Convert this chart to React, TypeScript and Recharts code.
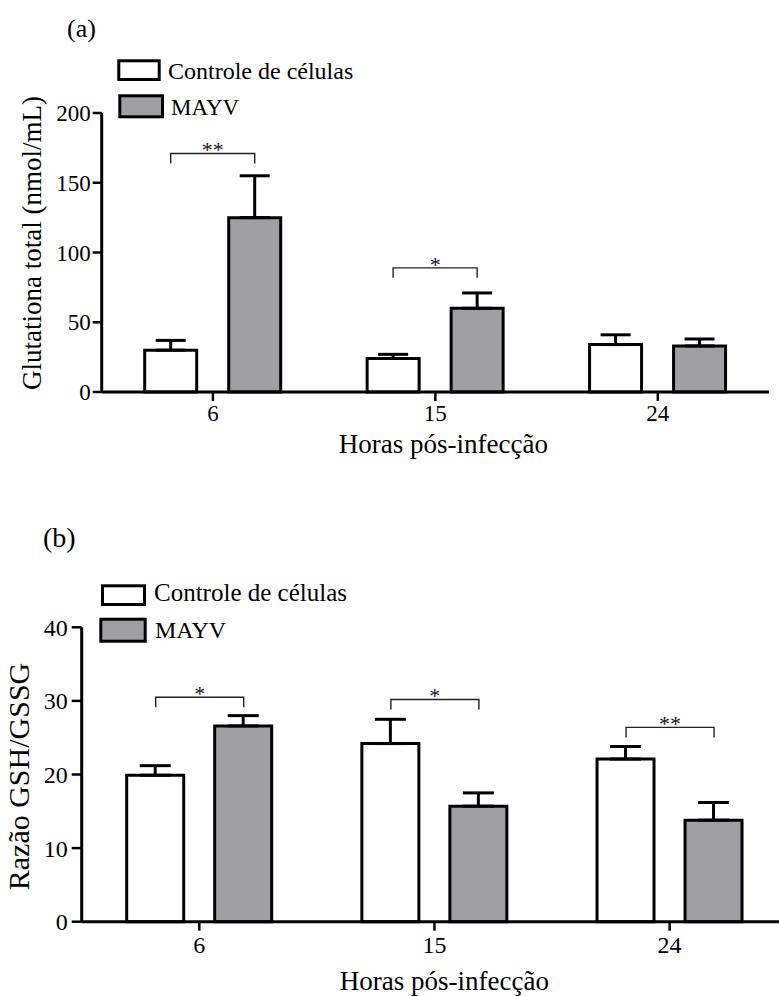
import React from 'react';
import { BarChart, Bar, XAxis, YAxis, ErrorBar } from 'recharts';

const FONT = '"Liberation Serif", "Times New Roman", serif';
const GRAY = '#a0a0a4';

const hours = ['6', '15', '24'];
const seriesNames = ['Controle de células', 'MAYV'];
const xTitle = 'Horas pós-infecção';

const glutTitle = 'Glutationa total (nmol/mL)';
const glutControl = [30, 24, 34];
const glutControlErr = [7, 3, 7];
const glutMayv = [125, 60, 33];
const glutMayvErr = [30, 11, 5];
const glutBracket = [171, 89, null];
const glutSig = ['**', '*', ''];
const glutTicks = [0, 50, 100, 150, 200];

const ratioTitle = 'Razão GSH/GSSG';
const ratioControl = [19.9, 24.2, 22.1];
const ratioControlErr = [1.3, 3.3, 1.7];
const ratioMayv = [26.6, 15.7, 13.8];
const ratioMayvErr = [1.4, 1.8, 2.4];
const ratioBracket = [30.5, 30.2, 26.4];
const ratioSig = ['*', '*', '**'];
const ratioTicks = [0, 10, 20, 30, 40];

const buildRows = (
  c: number[], ce: number[], m: number[], me: number[], br: (number | null)[], sig: string[]
) =>
  hours.map((h, i) => ({
    hour: h,
    control: c[i],
    controlErr: [0, ce[i]],
    mayv: m[i],
    mayvErr: [0, me[i]],
    bracket: br[i],
    sig: sig[i],
  }));

const glutRows = buildRows(glutControl, glutControlErr, glutMayv, glutMayvErr, glutBracket, glutSig);
const ratioRows = buildRows(ratioControl, ratioControlErr, ratioMayv, ratioMayvErr, ratioBracket, ratioSig);

const BracketShape = (props: any) => {
  const { x, y, width, payload } = props;
  if (!payload || payload.bracket == null || !payload.sig) return <g />;
  const h = 10;
  return (
    <g>
      <path
        d={`M${x},${y + h} L${x},${y} L${x + width},${y} L${x + width},${y + h}`}
        fill="none"
        stroke="#222"
        strokeWidth={1.4}
      />
      <text x={x + width / 2} y={y + 4} textAnchor="middle" fontSize={22} fontFamily={FONT} fill="#111122">
        {payload.sig}
      </text>
    </g>
  );
};

const XTick = (props: any) => {
  const { x, y, payload, size } = props;
  return (
    <text x={x} y={y} dy="0.71em" textAnchor="middle" fontSize={size} fontFamily={FONT} fill="#000">
      {payload.value}
    </text>
  );
};

const YTick = (props: any) => {
  const { x, y, payload, size } = props;
  return (
    <text x={x} y={y} dy="0.355em" textAnchor="end" fontSize={size} fontFamily={FONT} fill="#000">
      {payload.value}
    </text>
  );
};

const XTitle = (props: any) => {
  const { viewBox, text, dx, dy, size } = props;
  const cx = viewBox.x + viewBox.width / 2 + dx;
  return (
    <text x={cx} y={viewBox.y + dy} textAnchor="middle" fontSize={size} fontFamily={FONT} fill="#000">
      {text}
    </text>
  );
};

const YTitle = (props: any) => {
  const { viewBox, text, bx, dy, size } = props;
  const cy = viewBox.y + viewBox.height / 2 + dy;
  return (
    <text
      x={bx}
      y={cy}
      transform={`rotate(-90 ${bx} ${cy})`}
      textAnchor="middle"
      fontSize={size}
      fontFamily={FONT}
      fill="#000"
    >
      {text}
    </text>
  );
};

const axisLine = { stroke: '#000', strokeWidth: 3 };
const tickLine = { stroke: '#000', strokeWidth: 2.5 };

export default function App() {
  return (
    <div
      style={{
        position: 'absolute',
        left: 0,
        top: 0,
        width: 779,
        height: 996,
        overflow: 'hidden',
        background: '#fff',
      }}
    >
      <div style={{ position: 'absolute', left: 0, top: 0 }}>
        <BarChart
          width={779}
          height={470}
          data={glutRows}
          margin={{ top: 113, right: 10, bottom: 0, left: 0 }}
          barGap={32}
          style={{ fontFamily: FONT }}
        >
          <XAxis
            dataKey="hour"
            height={78}
            tickSize={9}
            tickMargin={4}
            axisLine={axisLine}
            tickLine={tickLine}
            tick={<XTick size={23} />}
            label={<XTitle text={xTitle} dx={8} dy={61} size={27} />}
          />
          <XAxis xAxisId="br" dataKey="hour" hide />
          <YAxis
            domain={[0, 200]}
            ticks={glutTicks}
            interval={0}
            width={101.7}
            tickSize={9}
            tickMargin={2}
            axisLine={axisLine}
            tickLine={tickLine}
            tick={<YTick size={23} />}
            label={<YTitle text={glutTitle} bx={41} dy={-9.5} size={27} />}
          />
          <Bar dataKey="control" name={seriesNames[0]} fill="#fff" stroke="#000" strokeWidth={3} barSize={52} isAnimationActive={false}>
            <ErrorBar dataKey="controlErr" direction="y" width={15} stroke="#000" strokeWidth={3} isAnimationActive={false} />
          </Bar>
          <Bar dataKey="mayv" name={seriesNames[1]} fill={GRAY} stroke="#000" strokeWidth={3} barSize={52} isAnimationActive={false}>
            <ErrorBar dataKey="mayvErr" direction="y" width={15} stroke="#000" strokeWidth={3} isAnimationActive={false} />
          </Bar>
          <Bar xAxisId="br" dataKey="bracket" barSize={84} shape={BracketShape} isAnimationActive={false} />
        </BarChart>
      </div>

      <div style={{ position: 'absolute', left: 0, top: 470 }}>
        <BarChart
          width={800}
          height={526}
          data={ratioRows}
          margin={{ top: 157.3, right: 12.8, bottom: 0, left: 0 }}
          barGap={31}
          style={{ fontFamily: FONT }}
        >
          <XAxis
            dataKey="hour"
            height={74.3}
            tickSize={9}
            tickMargin={5}
            axisLine={axisLine}
            tickLine={tickLine}
            tick={<XTick size={24} />}
            label={<XTitle text={xTitle} dx={10} dy={68} size={27} />}
          />
          <XAxis xAxisId="br" dataKey="hour" hide />
          <YAxis
            domain={[0, 40]}
            ticks={ratioTicks}
            interval={0}
            width={81.7}
            tickSize={10}
            tickMargin={4}
            axisLine={axisLine}
            tickLine={tickLine}
            tick={<YTick size={24} />}
            label={<YTitle text={ratioTitle} bx={28.5} dy={2} size={30} />}
          />
          <Bar dataKey="control" name={seriesNames[0]} fill="#fff" stroke="#000" strokeWidth={3} barSize={57} isAnimationActive={false}>
            <ErrorBar dataKey="controlErr" direction="y" width={15.5} stroke="#000" strokeWidth={3} isAnimationActive={false} />
          </Bar>
          <Bar dataKey="mayv" name={seriesNames[1]} fill={GRAY} stroke="#000" strokeWidth={3} barSize={57} isAnimationActive={false}>
            <ErrorBar dataKey="mayvErr" direction="y" width={15.5} stroke="#000" strokeWidth={3} isAnimationActive={false} />
          </Bar>
          <Bar xAxisId="br" dataKey="bracket" barSize={88} shape={BracketShape} isAnimationActive={false} />
        </BarChart>
      </div>

      <svg
        width={779}
        height={996}
        style={{ position: 'absolute', left: 0, top: 0, pointerEvents: 'none' }}
      >
        <g fontFamily={FONT} fill="#000">
          <text x={67} y={37} fontSize={26}>(a)</text>
          <rect x={118.8} y={60.8} width={40.4} height={18.7} fill="#fff" stroke="#000" strokeWidth={3} />
          <text x={168} y={79} fontSize={24}>{seriesNames[0]}</text>
          <rect x={119.8} y={95.8} width={42.7} height={21} fill={GRAY} stroke="#000" strokeWidth={3} />
          <text x={171} y={115} fontSize={23}>{seriesNames[1]}</text>

          <text x={43} y={547} fontSize={28}>(b)</text>
          <rect x={102.5} y={585.8} width={42} height={18.7} fill="#fff" stroke="#000" strokeWidth={3} />
          <text x={154} y={601} fontSize={25}>{seriesNames[0]}</text>
          <rect x={100.8} y={619.2} width={44.4} height={22} fill={GRAY} stroke="#000" strokeWidth={3} />
          <text x={155} y={638} fontSize={24}>{seriesNames[1]}</text>
        </g>
      </svg>
    </div>
  );
}
